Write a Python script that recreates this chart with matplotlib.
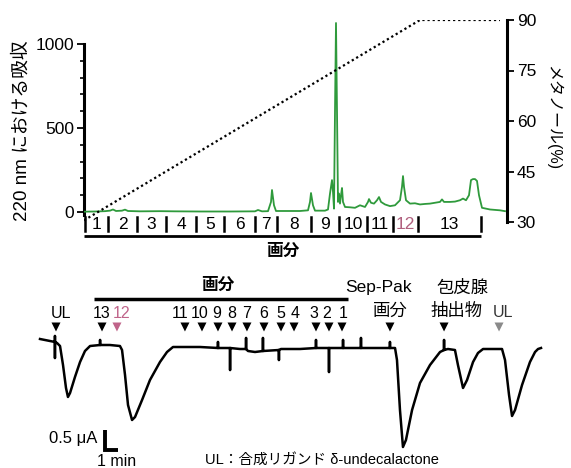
import matplotlib
matplotlib.use("Agg")
import matplotlib.pyplot as plt
from matplotlib.ticker import FixedLocator

plt.rcParams['font.family'] = ['Liberation Sans', 'Noto Sans CJK JP']

# ---------------- Top panel data (HPLC) ----------------
hplc_t = [0, 2.2, 4.2, 5.2, 5.8, 6.4, 7.6, 8.2, 8.8, 11.2, 15.2, 18.2, 23.2, 29.2,
          34.2, 34.8, 35.6, 36.8, 37.4, 37.6, 38.0, 38.4, 43.2, 44.8, 45.2, 45.4,
          45.8, 46.2, 48.2, 48.8, 49.2, 49.6, 49.8, 50.0, 50.2, 50.4, 50.6, 50.8,
          51.0, 51.2, 51.4, 51.6, 51.8, 52.2, 53.2, 54.2, 55.2, 56.2, 56.8, 57.0,
          57.4, 58.0, 58.6, 59.0, 59.4, 60.2, 61.2, 62.2, 63.2, 63.6, 63.8, 64.0,
          64.4, 65.2, 66.2, 67.2, 68.2, 69.2, 70.2, 71.2, 71.6, 72.0, 73.2, 74.2,
          75.2, 75.8, 76.4, 77.0, 77.4, 77.8, 78.2, 78.6, 79.0, 79.6, 81.2, 83.2, 84.2]
hplc_abs = [2, 3, 5, 8, 15, 6, 8, 14, 6, 4, 5, 4, 3, 3,
            4, 12, 4, 5, 60, 131, 40, 6, 6, 10, 60, 113,
            40, 8, 8, 15, 110, 190, 120, 20, 600, 1125, 600, 60,
            110, 50, 100, 143, 60, 30, 28, 25, 40, 30, 60, 77,
            55, 50, 70, 89, 60, 45, 35, 40, 70, 150, 214, 150,
            70, 50, 52, 45, 48, 50, 55, 60, 75, 60, 60, 62,
            70, 80, 70, 100, 190, 196, 196, 185, 100, 25, 15, 10, 5]

grad_t = [0, 67.2, 83.2]
grad_meoh = [30.5, 90, 90]

frac_bounds = [0.2, 4.8, 10.6, 16.4, 22.4, 28.0, 34.2, 38.6, 45.4, 51.0, 56.6, 61.8, 66.8, 79.4]
frac_labels = ['1', '2', '3', '4', '5', '6', '7', '8', '9', '10', '11', '12', '13']

# ---------------- Bottom panel data (electrophysiology) ----------------
rec_t = [0, 0.77, 1.15, 1.15, 1.15, 1.15, 1.31, 1.54, 1.77, 2.0, 2.15, 2.31, 2.69, 3.08,
         3.46, 3.85, 4.62, 4.62, 4.62, 5.38, 6.15, 6.31, 6.54, 6.77, 7.08, 7.31, 7.85,
         8.46, 9.23, 9.77, 10.23, 11.15, 12.31, 13.69, 13.69, 13.69, 14.62, 14.62,
         14.62, 15.38, 15.85, 15.85, 15.85, 16.0, 16.54, 17.15, 17.15, 17.15, 18.38,
         18.38, 18.38, 18.54, 20.0, 21.23, 21.23, 21.23, 22.23, 22.23, 22.23, 23.31,
         23.31, 23.31, 24.69, 24.69, 24.69, 26.92, 26.92, 26.92, 27.31, 27.46, 27.69,
         27.92, 28.15, 28.62, 29.23, 30.0, 30.77, 31.08, 31.08, 31.08, 31.38, 31.92,
         32.15, 32.54, 32.85, 33.31, 33.69, 34.08, 35.54, 35.77, 36.08, 36.31, 36.54,
         37.08, 37.69, 38.08, 38.31, 38.54]
rec_i = [0.15, 0.10, 0.075, 0.225, -0.325, 0.075, 0.05, -0.025, -0.5, -1.075, -1.3, -1.2,
         -0.8, -0.425, -0.15, -0.025, 0, 0.125, 0, 0, -0.025, -0.125, -0.75, -1.5, -1.875,
         -1.8, -1.375, -0.875, -0.425, -0.175, -0.05, -0.05, -0.05, -0.075, 0.075, -0.075,
         -0.075, -0.625, -0.075, -0.1, -0.1, 0.175, -0.1, -0.15, -0.175, -0.15, 0.175,
         -0.15, -0.125, -0.375, -0.125, -0.1, -0.1, -0.075, 0.125, -0.075, -0.075, -0.675,
         -0.075, -0.075, 0.125, -0.075, -0.075, 0.175, -0.075, -0.075, 0.075, -0.075,
         -0.075, -0.375, -1.625, -2.55, -2.375, -1.625, -0.95, -0.5, -0.175, -0.125, 0.125,
         -0.125, -0.1, -0.125, -0.5, -1.075, -0.875, -0.425, -0.2, -0.1, -0.1, -0.375,
         -1.25, -1.775, -1.625, -1.0, -0.425, -0.175, -0.1, -0.075]

stim_t = [1.23, 4.77, 5.92, 11.15, 12.46, 13.69, 14.77, 15.92, 17.23, 18.54, 19.54,
          21.23, 22.23, 23.23, 26.92, 31.08, 35.31]
stim_colors = ['k', 'k', '#c0648a', 'k', 'k', 'k', 'k', 'k', 'k', 'k', 'k',
               'k', 'k', 'k', 'k', 'k', '#8a8a8a']
stim_labels = ['UL', '13', '12', '11', '10', '9', '8', '7', '6', '5', '4', '3', '2', '1']
stim_label_t = [1.62, 4.77, 6.31, 10.77, 12.31, 13.62, 14.77, 15.92, 17.23, 18.54, 19.62,
                21.08, 22.08, 23.31]
label_colors = ['k', 'k', '#c0648a'] + ['k'] * 11

fig = plt.figure(figsize=(5.71, 4.68), dpi=100)

# ---------------- Top axes ----------------
ax = fig.add_axes([84 / 571, 1 - 222 / 468, 423 / 571, 202 / 468])
ax.plot(hplc_t, hplc_abs, color='#2f9a3c', lw=1.3, zorder=3)
ax.set_xlim(0, 84.6)
ax.set_ylim(-59.5, 1142.9)
ax.set_yticks([0, 500, 1000])
ax.yaxis.set_minor_locator(FixedLocator([100, 200, 300, 400, 600, 700, 800, 900]))
ax.tick_params(axis='y', which='major', length=5, width=1.3, labelsize=12.5, pad=2)
ax.tick_params(axis='y', which='minor', length=3, width=1.2)
ax.set_xticks([])
for s in ['top', 'right', 'bottom']:
    ax.spines[s].set_visible(False)
ax.spines['left'].set_linewidth(2.2)
ax.spines['left'].set_bounds(-15, 1000)
ax.set_ylabel('220 nm における吸収', fontsize=13.5, va='center')
ax.yaxis.set_label_coords(-0.147, 0.45)

ax2 = ax.twinx()
ax2.plot(grad_t, grad_meoh, color='k', lw=1.6, linestyle=(0, (1, 1.3)), zorder=2)
ax2.set_ylim(30, 90)
ax2.set_yticks([30, 45, 60, 75, 90])
ax2.tick_params(axis='y', length=5, width=1.3, labelsize=12.5, pad=2)
for s in ['top', 'left', 'bottom']:
    ax2.spines[s].set_visible(False)
ax2.spines['right'].set_linewidth(2.2)
ax2.set_ylabel('メタノール(%)', fontsize=11.5, rotation=270, va='center')
ax2.yaxis.set_label_coords(1.109, 0.515)

# fraction bar under top axes
xt = ax.get_xaxis_transform()
for b in frac_bounds:
    ax.plot([b, b], [0.025, -0.045], color='k', lw=1.8, transform=xt, clip_on=False)
for i, lab in enumerate(frac_labels):
    c = (frac_bounds[i] + frac_bounds[i + 1]) / 2
    ax.text(c, -0.012, lab, transform=xt, ha='center', va='center', fontsize=12.5,
            color='#b0607e' if lab == '12' else 'k', clip_on=False)
ax.plot([frac_bounds[0] - 0.2, frac_bounds[-1]], [-0.07, -0.07], color='k', lw=2,
        transform=xt, clip_on=False, solid_capstyle='butt')
ax.text((frac_bounds[0] + frac_bounds[-1]) / 2, -0.143, '画分', transform=xt,
        ha='center', va='center', fontsize=12, fontweight='bold')

# ---------------- Bottom axes ----------------
bx = fig.add_axes([0, 0, 1, 206 / 468])
bx.set_xlim(-3.077, 40.846)
bx.set_ylim(-3.075, 2.075)
bx.axis('off')
bx.plot(rec_t, rec_i, color='k', lw=1.8, solid_joinstyle='round')

bx.scatter(stim_t, [0.45] * len(stim_t), marker='v', s=42, c=stim_colors, zorder=3,
           linewidths=0)
for x, lab, c in zip(stim_label_t, stim_labels, label_colors):
    bx.text(x, 0.8, lab, ha='center', va='center', fontsize=11.5, color=c)

bx.plot([4.15, 23.69], [1.15, 1.15], color='k', lw=2.5, solid_capstyle='butt')
bx.text(13.69, 1.5, '画分', ha='center', va='center', fontsize=12, fontweight='bold')
bx.text(26.0, 1.43, 'Sep-Pak', ha='center', va='center', fontsize=12.5)
bx.text(32.54, 1.43, '包皮腺', ha='center', va='center', fontsize=12.5)
bx.text(26.92, 0.85, '画分', ha='center', va='center', fontsize=12.5)
bx.text(32.08, 0.85, '抽出物', ha='center', va='center', fontsize=12.5)
bx.text(35.6, 0.82, 'UL', ha='center', va='center', fontsize=11.5, color='#333333')

# scale bar
bx.plot([5.0, 5.0, 6.0], [-2.125, -2.625, -2.625], color='k', lw=2.8,
        solid_joinstyle='miter', solid_capstyle='butt')
bx.text(4.4, -2.33, '0.5 μA', ha='right', va='center', fontsize=12)
bx.text(5.9, -2.9, '1 min', ha='center', va='center', fontsize=11.5)
bx.text(12.69, -2.86, 'UL：合成リガンド δ-undecalactone', ha='left', va='center',
        fontsize=10.5)

fig.savefig('out.png', dpi=100)
